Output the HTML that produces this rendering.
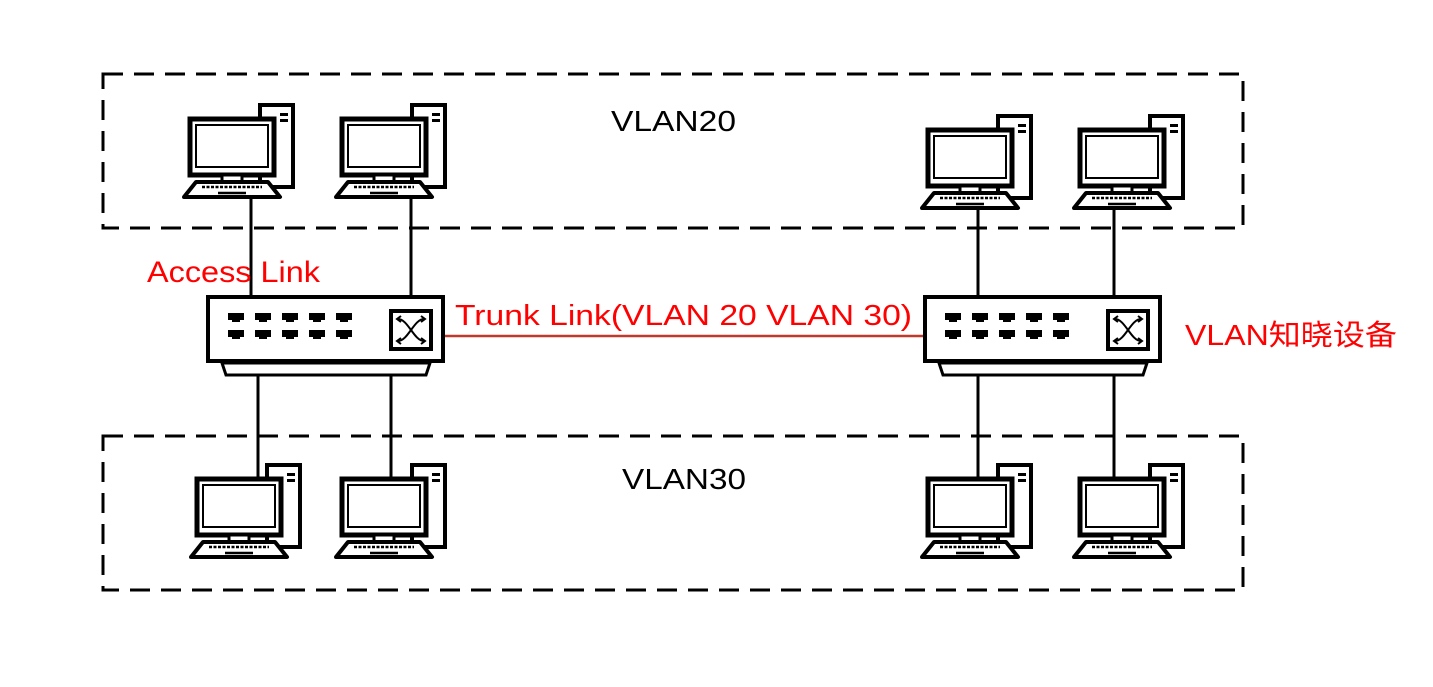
<!DOCTYPE html>
<html><head><meta charset="utf-8"><style>
body{margin:0;background:#fff;}
svg{display:block;}
text{font-family:"Liberation Sans","Noto Sans CJK SC",sans-serif;}
</style></head><body>
<svg width="1433" height="687" viewBox="0 0 1433 687" xmlns="http://www.w3.org/2000/svg">
<defs>
<g id="pc">
  <rect x="72" y="-12" width="33" height="82" fill="#fff" stroke="#000" stroke-width="4"/>
  <rect x="92" y="-4" width="8" height="3" fill="#000"/>
  <rect x="92" y="2" width="8" height="3" fill="#000"/>
  <rect x="2" y="2" width="84" height="56" fill="#fff" stroke="#000" stroke-width="5"/>
  <rect x="8" y="8" width="72" height="42" fill="#fff" stroke="#000" stroke-width="2"/>
  <rect x="34" y="58" width="20" height="7" fill="#fff" stroke="#000" stroke-width="3"/>
  <polygon points="8,65 80,65 92,80 -4,80" fill="#fff" stroke="#000" stroke-width="4" stroke-linejoin="round"/>
  <line x1="14" y1="70" x2="74" y2="70" stroke="#000" stroke-width="2.5" stroke-dasharray="3,1.5"/>
  <line x1="30" y1="76" x2="58" y2="76" stroke="#000" stroke-width="2.5"/>
</g>
<g id="sw">
  <rect x="0" y="0" width="235" height="64" fill="#fff" stroke="#000" stroke-width="4"/>
  <g fill="#000">
    <g id="ports">
      <rect x="20" y="16" width="16" height="7"/><rect x="24" y="22" width="8" height="3"/>
      <rect x="20" y="33" width="16" height="7"/><rect x="24" y="39" width="8" height="3"/>
    </g>
    <use href="#ports" x="27"/><use href="#ports" x="54"/><use href="#ports" x="81"/><use href="#ports" x="108"/>
  </g>
  <rect x="183" y="14" width="40" height="38" fill="#fff" stroke="#000" stroke-width="4"/>
  <path d="M190,22 C200,22 206,44 216,44 M190,44 C200,44 206,22 216,22" fill="none" stroke="#000" stroke-width="2"/>
  <path d="M193,19 L189,22 L193,25 M193,41 L189,44 L193,47 M213,19 L217,22 L213,25 M213,41 L217,44 L213,47" fill="none" stroke="#000" stroke-width="2"/>
  <polygon points="14,66 222,66 218,78 18,78" fill="#fff" stroke="#000" stroke-width="3"/>
</g>
</defs>

<g fill="none" stroke="#000" stroke-width="3" stroke-dasharray="20,11">
  <rect x="103" y="74" width="1140" height="154"/>
  <rect x="103" y="436" width="1140" height="154"/>
</g>

<g stroke="#000" stroke-width="3">
  <line x1="251" y1="197" x2="251" y2="297"/>
  <line x1="411" y1="197" x2="411" y2="297"/>
  <line x1="978" y1="210" x2="978" y2="297"/>
  <line x1="1114" y1="210" x2="1114" y2="297"/>
  <line x1="258" y1="375" x2="258" y2="477"/>
  <line x1="391" y1="375" x2="391" y2="477"/>
  <line x1="978" y1="375" x2="978" y2="477"/>
  <line x1="1114" y1="375" x2="1114" y2="477"/>
</g>
<line x1="443" y1="336" x2="924" y2="336" stroke="#c0392b" stroke-width="2.5"/>

<use href="#pc" x="188" y="117"/>
<use href="#pc" x="340" y="117"/>
<use href="#pc" x="926" y="128"/>
<use href="#pc" x="1078" y="128"/>
<use href="#pc" x="195" y="477"/>
<use href="#pc" x="340" y="477"/>
<use href="#pc" x="926" y="477"/>
<use href="#pc" x="1078" y="477"/>

<use href="#sw" x="208" y="297"/>
<use href="#sw" x="925" y="297"/>

<text x="611" y="131" font-size="29" fill="#000" textLength="125" lengthAdjust="spacingAndGlyphs">VLAN20</text>
<text x="622" y="489" font-size="29" fill="#000" textLength="124" lengthAdjust="spacingAndGlyphs">VLAN30</text>
<text x="147" y="282" font-size="30" fill="#ff0000" textLength="173" lengthAdjust="spacingAndGlyphs">Access Link</text>
<text x="455" y="325" font-size="29" fill="#ff0000" textLength="457" lengthAdjust="spacingAndGlyphs">Trunk Link(VLAN 20 VLAN 30)</text>
<text x="1185" y="345" font-size="29" fill="#ff0000" textLength="212" lengthAdjust="spacingAndGlyphs">VLAN知晓设备</text>
</svg>
</body></html>
